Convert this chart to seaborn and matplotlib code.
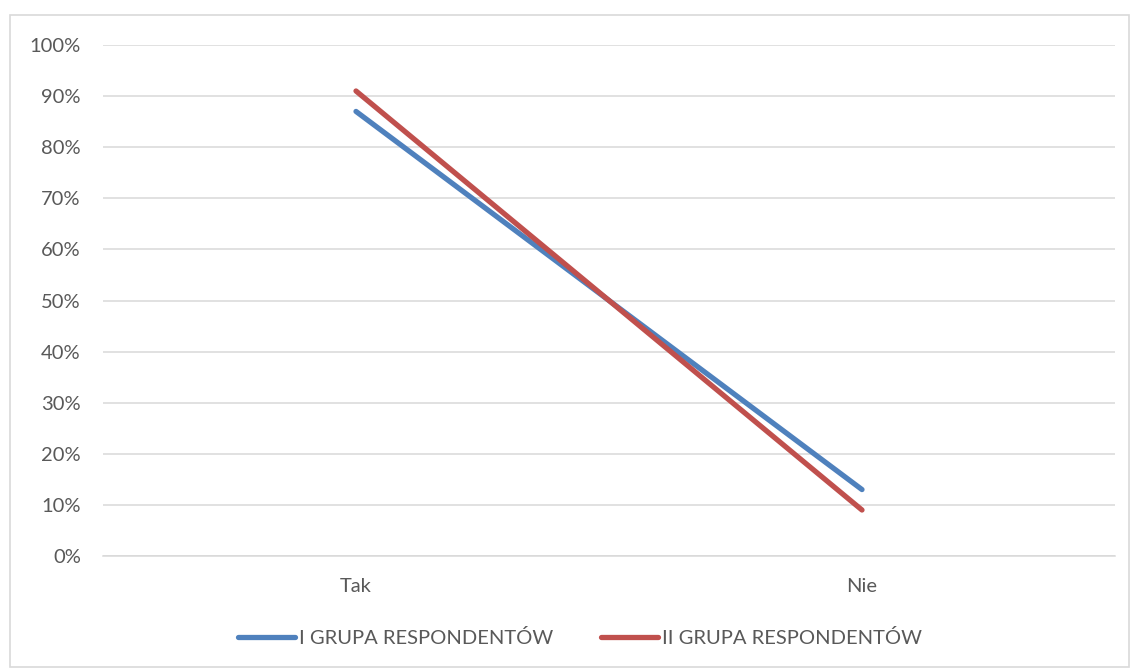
import matplotlib
matplotlib.use("Agg")
import matplotlib.pyplot as plt
import matplotlib.patches as mpatches
import seaborn as sns
import pandas as pd

categories = ["Tak", "Nie"]
series_names = ["I GRUPA RESPONDENTÓW", "II GRUPA RESPONDENTÓW"]
group_1 = [87, 13]
group_2 = [91, 9]
colors = ["#4F81BD", "#C0504D"]
y_ticks = list(range(0, 101, 10))

df = pd.DataFrame({
    "kategoria": categories * 2,
    "wartosc": group_1 + group_2,
    "grupa": [series_names[0]] * 2 + [series_names[1]] * 2,
})
df["x"] = df["kategoria"].map({c: i for i, c in enumerate(categories)})

sns.set_theme(style="white")
plt.rcParams["font.family"] = ["Lato", "DejaVu Sans"]

W, H = 1131, 669
FS = 14.5
fig = plt.figure(figsize=(W / 100, H / 100), dpi=100)
ax = fig.add_axes([103 / W, 1 - 556 / H, (1115 - 103) / W, (556 - 45) / H])

# outer chart frame
fig.patches.append(mpatches.Rectangle((10 / W, 2 / H), (W - 12) / W, (H - 17) / H,
                                      transform=fig.transFigure, fill=False,
                                      edgecolor="#D9D9D9", linewidth=1.2))

sns.lineplot(data=df, x="x", y="wartosc", hue="grupa", palette=colors,
             hue_order=series_names, linewidth=3.8, ax=ax, legend=False,
             solid_capstyle="round")

ax.set_xlim(-0.5, 1.5)
ax.set_ylim(0, 100)
ax.set_yticks(y_ticks)
ax.set_yticklabels([f"{t}%" for t in y_ticks])
ax.set_xticks(range(len(categories)))
ax.set_xticklabels(categories)
ax.set_xlabel("")
ax.set_ylabel("")
ax.grid(axis="y", color="#D9D9D9", linewidth=1.1)
ax.set_axisbelow(True)
for s in ["top", "right", "left"]:
    ax.spines[s].set_visible(False)
ax.spines["bottom"].set_color("#D9D9D9")
ax.spines["bottom"].set_linewidth(1.1)
ax.tick_params(axis="both", length=0, labelsize=FS, labelcolor="#595959")
ax.tick_params(axis="y", pad=16)
ax.tick_params(axis="x", pad=16)

handles = [plt.Line2D([0], [0], color=c, linewidth=3.8, solid_capstyle="round")
           for c in colors]
fig.legend(handles, series_names, loc="center", bbox_to_anchor=(580 / W, 1 - 638 / H),
           ncol=2, frameon=False, fontsize=FS, labelcolor="#595959",
           handlelength=2.8, handletextpad=0.2, columnspacing=2.4)

fig.savefig("out.png", dpi=100)
